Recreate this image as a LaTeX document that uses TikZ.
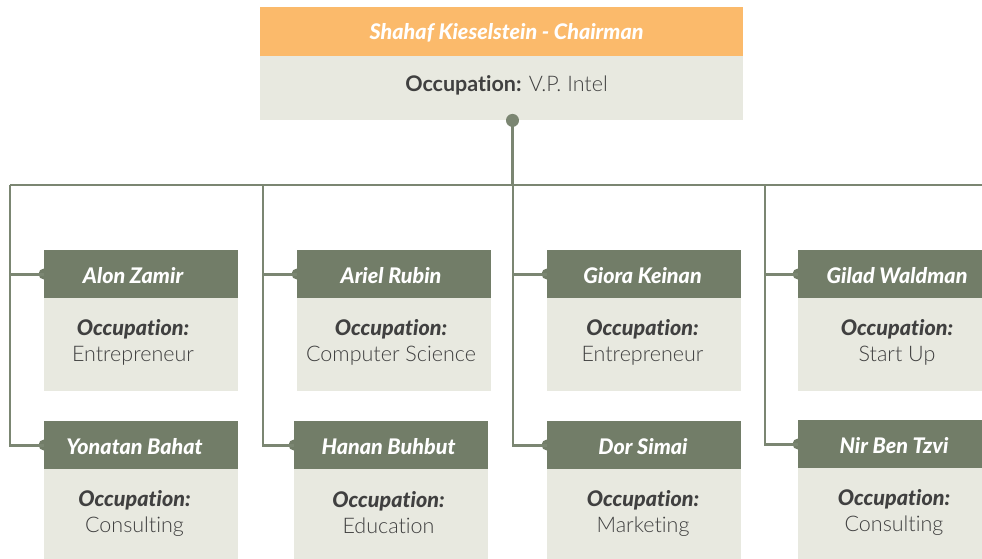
\documentclass[tikz,border=0pt]{standalone}
\usepackage{fontspec}
\setmainfont{Lato}[RawFeature=-liga]
\newfontfamily\lightfont{Lato Light}[RawFeature=-liga]
\newfontfamily\blackfont{Lato Black}[RawFeature=-liga]
\definecolor{orangeh}{HTML}{FBBA6B}
\definecolor{beige}{HTML}{E8E9E0}
\definecolor{greenh}{HTML}{727D68}
\definecolor{linec}{HTML}{7B8672}
\definecolor{txt}{HTML}{404040}
\tikzset{
  hdr/.style={fill=greenh, anchor=north west, minimum width=194pt, minimum height=48pt, inner sep=0pt},
  rhdr/.style={fill=orangeh, anchor=north west, minimum width=483pt, minimum height=49pt, inner sep=0pt},
  htext/.style={text=white, inner sep=0pt, font=\fontsize{21.5}{22}\selectfont\blackfont\itshape},
  bodybox/.style={fill=beige, anchor=north west, minimum width=194pt, inner sep=0pt},
  occ/.style={text=txt, align=center, inner sep=0pt, font=\fontsize{21.5}{26}\selectfont},
  conn/.style={draw=linec, line width=2.6pt}
}
\begin{document}
\begin{tikzpicture}[x=1pt,y=-1pt]
\useasboundingbox (0,0) rectangle (982,558);
\clip (0,0) rectangle (982,558);
% bus
\coordinate (busL) at (10,185);
\coordinate (busR) at (990,185);
\coordinate (bus2) at (263,185);
\coordinate (bus3) at (513,185);
\coordinate (bus4) at (765,185);
\coordinate (busT) at (512.5,185);
% root
\node[rhdr] (rh) at (260,7) {};
\node[htext] (rn) at (506.5,33) {Shahaf Kieselstein - Chairman};
\node[bodybox, minimum width=483pt, minimum height=64pt] (rb) at (260,56) {};
\node[occ] (rt) at (506.5,85) {\textbf{Occupation:} {\lightfont V.P. Intel}};
\draw[conn] (rb.south -| busT) -- (busT);
\fill[linec] (rb.south -| busT) circle (6.5pt);
\draw[conn] (busL) -- (busR);
% member: #1 id, #2 x, #3 header top, #4 person, #5 occupation, #6 body height, #7 text centre x
\newcommand{\member}[7]{%
  \fill[greenh] (#2,#3+24) circle (5.5pt);
  \node[hdr] (h#1) at (#2,#3) {};
  \node[htext] (n#1) at (#7,#3+26) {#4};
  \node[bodybox, minimum height=#6pt] (b#1) at (#2,#3+48) {};
  \node[occ] (t#1) at (#7,#3+92) {{\blackfont\itshape Occupation:}\\{\lightfont #5}};
}
\member{1}{44}{250}{Alon Zamir}{Entrepreneur}{93}{133}
\member{5}{44}{421}{Yonatan Bahat}{Consulting}{100}{134.5}
\member{2}{297}{250}{Ariel Rubin}{Computer Science}{93}{391}
\member{6}{294}{421}{Hanan Buhbut}{Education}{100}{388.5}
\member{3}{547}{250}{Giora Keinan}{Entrepreneur}{93}{642.5}
\member{7}{547}{421}{Dor Simai}{Marketing}{100}{643}
\member{4}{798}{250}{Gilad Waldman}{Start Up}{93}{897}
\member{8}{798}{420}{Nir Ben Tzvi}{Consulting}{100}{894}
% connectors
\draw[conn] (busL) |- (h5.west);
\draw[conn] (busL |- h1.west) -- (h1.west);
\draw[conn] (bus2) |- (h6.west);
\draw[conn] (bus2 |- h2.west) -- (h2.west);
\draw[conn] (bus3) |- (h7.west);
\draw[conn] (bus3 |- h3.west) -- (h3.west);
\draw[conn] (bus4) |- (h8.west);
\draw[conn] (bus4 |- h4.west) -- (h4.west);
\end{tikzpicture}
\end{document}
